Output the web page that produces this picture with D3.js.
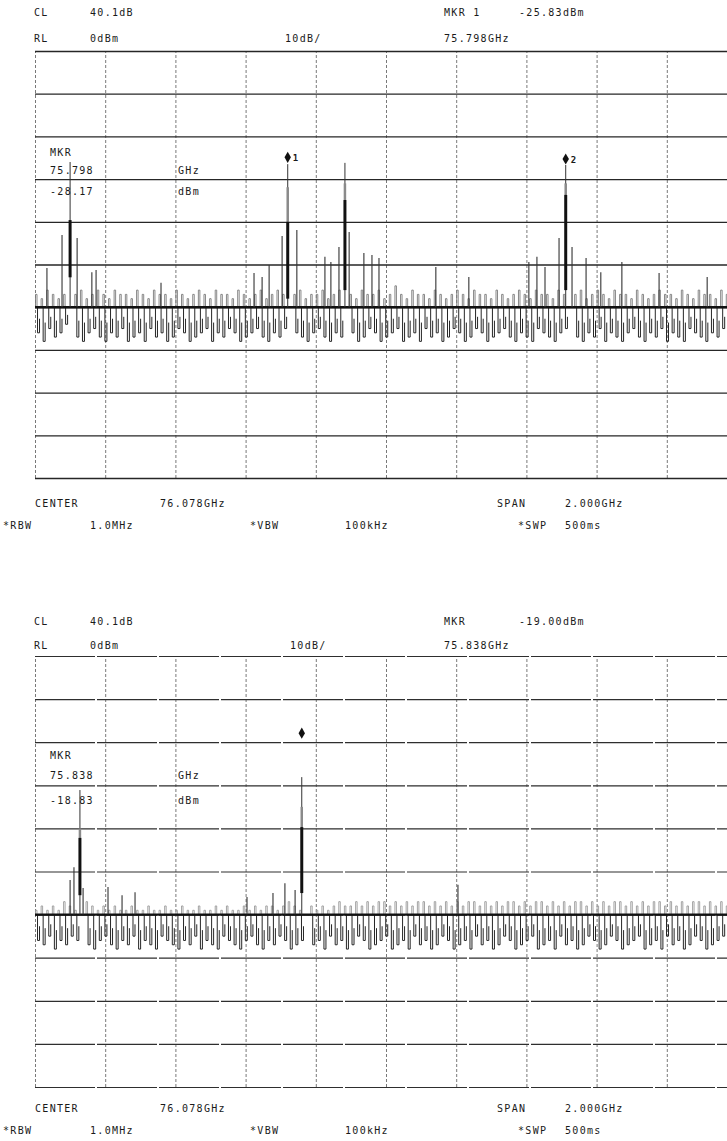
<!DOCTYPE html>
<html>
<head>
<meta charset="utf-8">
<script src="https://cdn.jsdelivr.net/npm/d3@7"></script>
<style>
  body { margin: 0; background: #fff; }
  text { font-family: "DejaVu Sans Mono", monospace; font-size: 10px; letter-spacing: 1.3px; fill: #1a1a1a; }
</style>
</head>
<body>
<svg id="chart" width="727" height="1141"></svg>
<script>
// sweep settings shared by both plots
var startGHz = 75.078, stopGHz = 77.078;
var refLevel = 0, bottomLevel = -100, floorLevel = -60;
var binGHz = 0.016;

// main responses: [freq GHz, thin top, grey top, solid top, solid bottom] in dBm
var peaksTop = [
  [75.178, -26.0, -39.6, -39.6, -53],
  [75.798, -26.5, -31.9, -40.0, -58],
  [75.961, -26.2, -31.0, -34.9, -56],
  [76.590, -26.7, -31.0, -33.7, -56]
];
var peaksBottom = [
  [75.206, -31.1, -40.0, -42.2, -55.5],
  [75.838, -28.1, -35.0, -39.7, -55.0]
];

// smaller spurs: [freq GHz, top dBm]
var spursTop = [
  [75.112, -50.8], [75.155, -43.1], [75.198, -43.8], [75.240, -51.8], [75.252, -51.3],
  [75.437, -54.3], [75.702, -52.0], [75.725, -52.9], [75.745, -50.1], [75.782, -43.3],
  [75.824, -41.9], [75.904, -48.2], [75.921, -49.4], [75.944, -45.9], [75.973, -42.4],
  [76.015, -47.3], [76.038, -47.8], [76.058, -48.5], [76.220, -50.6], [76.314, -52.9],
  [76.485, -49.4], [76.508, -48.2], [76.531, -50.6], [76.571, -43.8], [76.608, -45.9],
  [76.648, -48.5], [76.690, -51.8], [76.750, -49.4], [76.856, -52.0], [76.993, -52.9]
];
var spursBottom = [
  [75.178, -52.0], [75.189, -49.0], [75.215, -53.8], [75.286, -53.6], [75.326, -55.5],
  [75.363, -54.8], [75.682, -55.9], [75.756, -55.0], [75.790, -52.7], [75.819, -54.3],
  [76.283, -53.1]
];

// markers: [freq GHz, level dBm, label]
var markersTop = [[75.798, -24.9, "1"], [76.590, -25.3, "2"]];
var markersBottom = [[75.838, -17.9, ""]];

// noise floor, one value per 16 MHz bin: dips below the floor and grass above it (dB)
var dipsTop = [
  6,8,5,7,6,4,0,7,8,6,5,7,8,6,7,5,8,7,6,8,5,7,6,8,7,
  5,6,8,7,6,5,8,6,7,5,6,8,7,6,5,7,8,6,7,5,0,6,7,8,6,
  5,7,8,6,7,0,6,8,7,5,6,8,7,6,5,8,7,6,8,5,7,6,8,7,5,
  6,8,7,5,6,8,7,6,5,7,8,6,7,8,5,6,7,8,6,5,0,7,8,6,7,
  5,8,6,7,8,6,5,7,8,6,7,5,8,6,7,8,5,6,7,8,6,7,5,8,6
];
var grassTop = [
  3,2,4,3,2,3,0,3,4,2,3,4,3,2,4,3,3,2,4,3,2,4,3,3,2,
  4,3,2,3,4,3,2,4,3,3,2,4,3,2,3,4,2,3,4,3,0,3,4,2,3,
  3,4,2,3,4,0,3,2,4,3,3,4,2,3,5,3,2,4,3,3,2,4,3,2,3,
  4,3,2,4,3,3,2,4,3,2,3,4,3,2,4,3,3,2,4,3,0,3,4,2,3,
  4,3,2,4,3,3,2,4,3,2,3,4,3,3,2,4,3,2,4,3,3,2,4,3,2
];
var dipsBottom = [
  6,7,5,8,6,7,5,6,0,7,8,6,5,7,8,6,7,5,8,6,7,8,5,6,7,
  8,6,7,5,8,6,7,8,5,6,7,8,6,5,7,8,6,7,5,6,8,7,6,0,7,
  6,8,5,7,6,8,7,5,6,8,7,6,5,8,7,6,8,5,7,6,8,7,5,6,8,
  7,6,8,5,7,6,8,7,5,6,8,7,6,5,8,7,6,8,5,7,6,8,7,5,6,
  8,7,5,6,8,7,6,5,8,7,6,8,5,7,6,8,7,5,6,8,7,6,5,8,7
];
var grassBottom = [
  1,2,1,2,1,3,2,1,0,3,2,1,2,1,2,1,1,2,1,1,2,1,1,2,1,
  1,2,1,1,2,1,1,2,1,2,1,1,2,1,2,1,2,2,1,2,3,2,1,0,2,
  1,2,1,2,3,2,2,3,2,3,2,3,3,2,3,2,3,2,3,3,2,3,2,3,2,
  3,2,3,3,2,3,2,3,2,3,3,2,3,2,3,3,2,3,2,3,2,3,3,2,3,
  2,3,2,3,3,2,3,2,3,2,3,3,2,3,2,3,2,3,3,2,3,2,3,2,3
];

// annotation texts
var headTop = [["CL", "40.1dB", "MKR 1", "-25.83dBm"], ["RL", "0dBm", "10dB/", "75.798GHz"]];
var headBottom = [["CL", "40.1dB", "MKR", "-19.00dBm"], ["RL", "0dBm", "10dB/", "75.838GHz"]];
var footRow1 = ["CENTER", "76.078GHz", "SPAN", "2.000GHz"];
var footRow2 = ["*RBW", "1.0MHz", "*VBW", "100kHz", "*SWP", "500ms"];
var readTop = ["MKR", "75.798", "GHz", "-28.17", "dBm"];
var readBottom = ["MKR", "75.838", "GHz", "-18.83", "dBm"];

var svg = d3.select("#chart");
svg.append("rect").attr("width", 727).attr("height", 1141).attr("fill", "#fff");

var panels = [
  { top: 51, height: 427, head: headTop, readout: readTop, headY: [16, 42], footY: [507, 529], readY: [156, 174, 195],
    peaks: peaksTop, spurs: spursTop, markers: markersTop, dips: dipsTop, grass: grassTop,
    hStyle: { dash: null, color: "#262626", width: 1.3 }, grassColor: "#7a7a7a", tenX: 285 },
  { top: 656, height: 431, head: headBottom, readout: readBottom, headY: [625, 649], footY: [1112, 1134], readY: [759, 779, 804],
    peaks: peaksBottom, spurs: spursBottom, markers: markersBottom, dips: dipsBottom, grass: grassBottom,
    hStyle: { dash: "60,2", color: "#2e2e2e", width: 1.2 }, grassColor: "#9a9a9a", tenX: 290 }
];

panels.forEach(drawPanel);

function drawPanel(p) {
  var left = 35, width = 702;
  var x = d3.scaleLinear().domain([startGHz, stopGHz]).range([left, left + width]);
  var y = d3.scaleLinear().domain([refLevel, bottomLevel]).range([p.top, p.top + p.height]);
  var g = svg.append("g");

  //vertical grid, dashed grey
  var gx = g.append("g")
      .attr("transform", "translate(0," + (p.top + p.height) + ")")
      .call(d3.axisBottom(x)
        .tickValues(d3.range(0, 11).map(function(i) { return startGHz + i * 0.2; }))
        .tickSize(-p.height).tickFormat(""));
  gx.select(".domain").remove();
  gx.selectAll("line").attr("stroke", "#6a6a6a").attr("stroke-width", 0.9).attr("stroke-dasharray", "3,2");

  //horizontal grid, one line per 10 dB
  var gy = g.append("g")
      .attr("transform", "translate(" + left + ",0)")
      .call(d3.axisLeft(y).tickValues(d3.range(refLevel, bottomLevel - 1, -10))
        .tickSize(-(727 - left)).tickFormat(""));
  gy.select(".domain").remove();
  gy.selectAll("line").attr("stroke", p.hStyle.color).attr("stroke-width", p.hStyle.width)
    .attr("stroke-dasharray", p.hStyle.dash);

  // noise floor: grass above, dips below, each as an up/down excursion of the trace
  var bins = d3.range(p.dips.length);
  var yf = y(floorLevel);
  g.append("g").selectAll("path").data(bins).enter().append("path")
      .attr("d", function(i) {
        var x0 = x(startGHz + binGHz * i) + 0.5;
        var yt = y(floorLevel + p.grass[i]);
        return "M" + x0 + "," + yf + "V" + yt + "h1.5V" + yf;
      })
      .attr("stroke", p.grassColor).attr("stroke-width", 0.9).attr("fill", "none");
  g.append("g").selectAll("path").data(bins).enter().append("path")
      .attr("d", function(i) {
        var x0 = x(startGHz + binGHz * (i + 0.45));
        var yb = y(floorLevel - p.dips[i]);
        return "M" + x0 + "," + yf + "V" + yb + "h2V" + (yf + (yb - yf) * 0.45);
      })
      .attr("stroke", "#262626").attr("stroke-width", 1).attr("fill", "none");

  g.append("line")
      .attr("x1", left).attr("x2", 727)
      .attr("y1", yf).attr("y2", yf)
      .attr("stroke", "#111").attr("stroke-width", 2.4);

  // spurs
  g.append("g").selectAll("line").data(p.spurs).enter().append("line")
      .attr("x1", function(d) { return x(d[0]); }).attr("x2", function(d) { return x(d[0]); })
      .attr("y1", yf).attr("y2", function(d) { return y(d[1]); })
      .attr("stroke", "#333").attr("stroke-width", 1.1);

  // main responses
  var pk = g.append("g").selectAll("g").data(p.peaks).enter().append("g");
  pk.append("line")
      .attr("x1", function(d) { return x(d[0]); }).attr("x2", function(d) { return x(d[0]); })
      .attr("y1", yf).attr("y2", function(d) { return y(d[1]); })
      .attr("stroke", "#333").attr("stroke-width", 1);
  pk.append("line")
      .attr("x1", function(d) { return x(d[0]); }).attr("x2", function(d) { return x(d[0]); })
      .attr("y1", function(d) { return y(d[2]); }).attr("y2", function(d) { return y(d[3]); })
      .attr("stroke", "#8a8a8a").attr("stroke-width", 2.5);
  pk.append("line")
      .attr("x1", function(d) { return x(d[0]); }).attr("x2", function(d) { return x(d[0]); })
      .attr("y1", function(d) { return y(d[3]); }).attr("y2", function(d) { return y(d[4]); })
      .attr("stroke", "#111").attr("stroke-width", 3);

  // markers
  var mk = g.append("g").selectAll("g").data(p.markers).enter().append("g");
  mk.append("path")
      .attr("transform", function(d) { return "translate(" + x(d[0]) + "," + y(d[1]) + ")"; })
      .attr("d", d3.symbol().type(d3.symbolDiamond).size(36))
      .attr("fill", "#111");
  mk.append("text")
      .attr("x", function(d) { return x(d[0]) + 5; })
      .attr("y", function(d) { return y(d[1]) + 4; })
      .style("font-size", "9px").style("letter-spacing", "0").style("font-weight", "bold")
      .text(function(d) { return d[2]; });

  // header and footer texts
  var hx = [[34, 90, 444, 519], [34, 90, p.tenX, 444]];
  p.head.forEach(function(row, r) {
    g.append("g").selectAll("text").data(row).enter().append("text")
        .attr("x", function(d, i) { return hx[r][i]; })
        .attr("y", p.headY[r])
        .text(function(d) { return d; });
  });
  var fx1 = [35, 160, 497, 565], fx2 = [3, 90, 250, 345, 518, 565];
  g.append("g").selectAll("text").data(footRow1).enter().append("text")
      .attr("x", function(d, i) { return fx1[i]; }).attr("y", p.footY[0])
      .text(function(d) { return d; });
  g.append("g").selectAll("text").data(footRow2).enter().append("text")
      .attr("x", function(d, i) { return fx2[i]; }).attr("y", p.footY[1])
      .text(function(d) { return d; });

  // marker readout inside the grid
  var rx = [50, 50, 178, 50, 178], ry = [p.readY[0], p.readY[1], p.readY[1], p.readY[2], p.readY[2]];
  g.append("g").selectAll("text").data(p.readout).enter().append("text")
      .attr("x", function(d, i) { return rx[i]; }).attr("y", function(d, i) { return ry[i]; })
      .text(function(d) { return d; });
}
</script>
</body>
</html>
